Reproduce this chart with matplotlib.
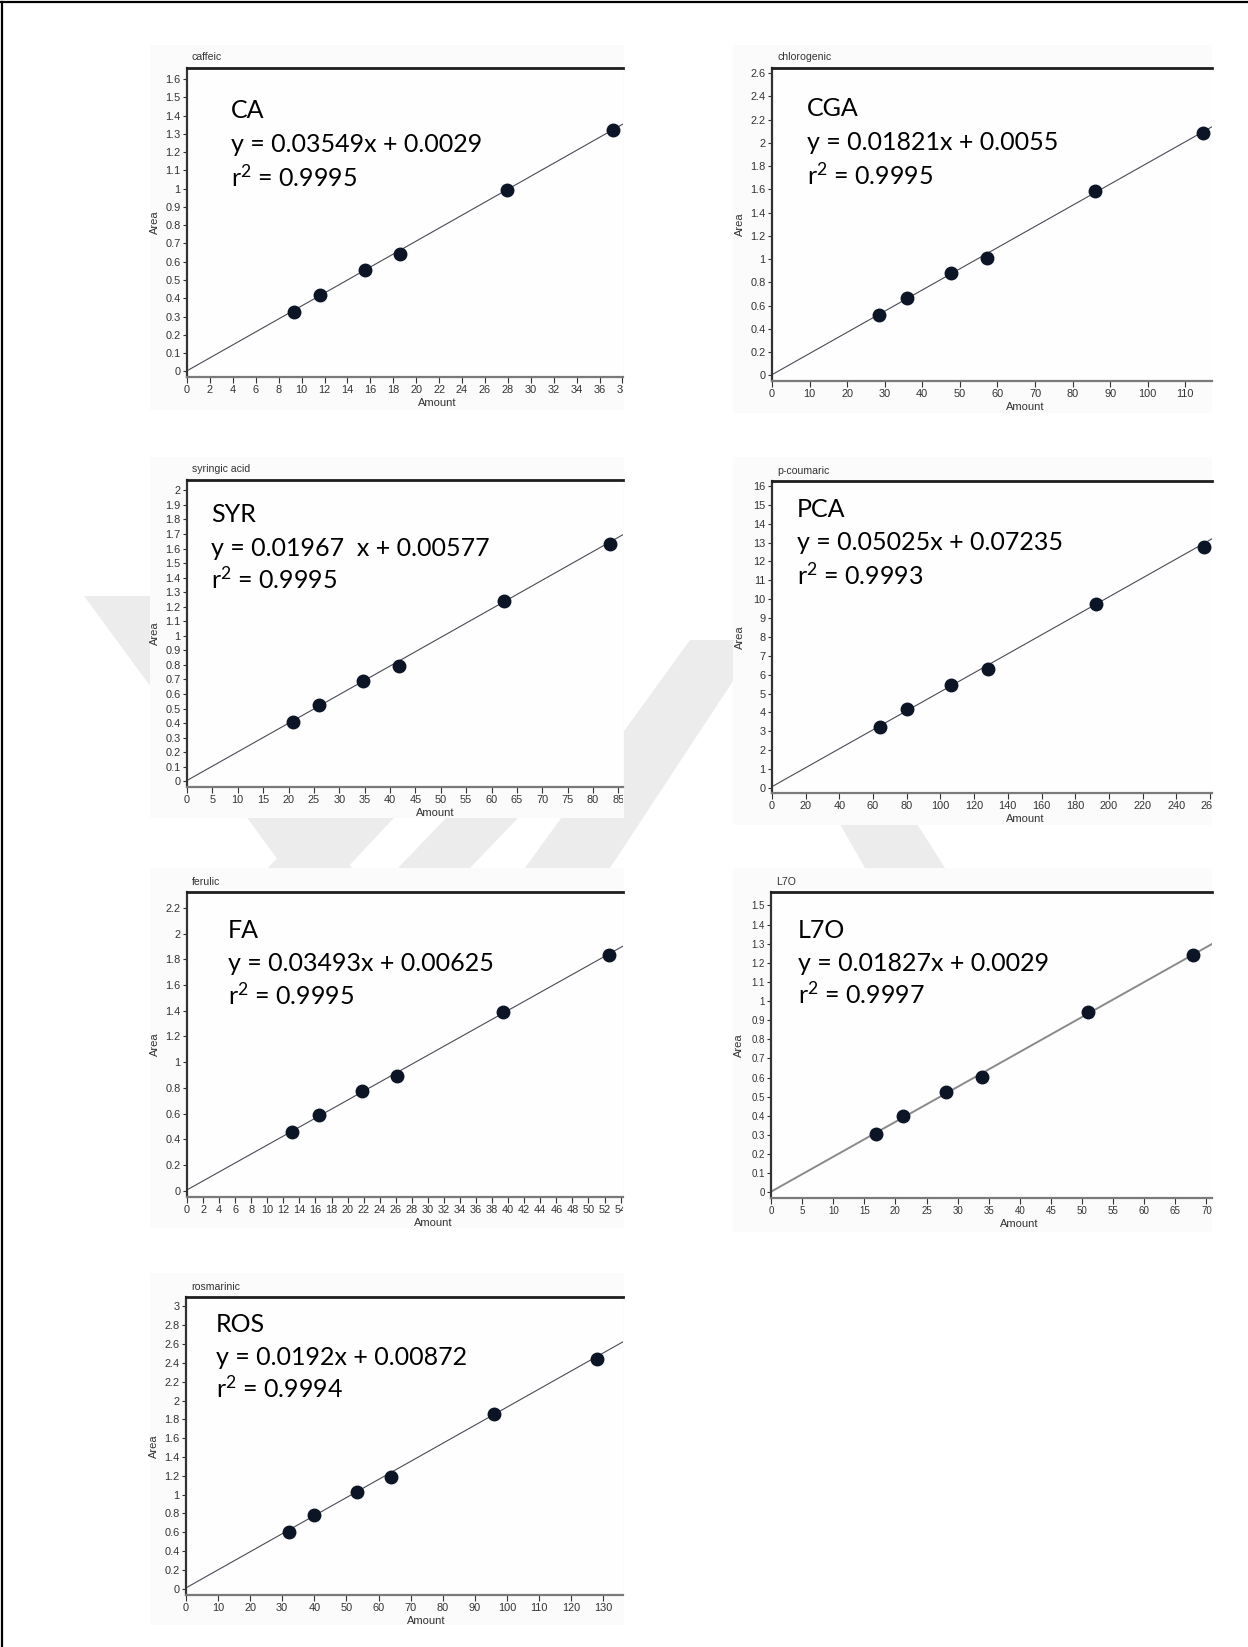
import matplotlib.pyplot as plt
import numpy as np
from matplotlib.patches import Polygon, Rectangle
from matplotlib.lines import Line2D
from matplotlib.transforms import Bbox, TransformedBbox

plt.rcParams['font.family'] = ['Liberation Sans', 'DejaVu Sans']
plt.rcParams['mathtext.fontset'] = 'custom'
plt.rcParams['mathtext.rm'] = 'Lato'
plt.rcParams['mathtext.it'] = 'Lato'
plt.rcParams['mathtext.default'] = 'regular'

# calibration data (amount vs peak area)
ca_x = [9.3, 11.6, 15.5, 18.6, 27.9, 37.2]
ca_y = [0.325, 0.42, 0.555, 0.64, 0.995, 1.32]

cga_x = [28.6, 35.8, 47.7, 57.3, 86.0, 114.7]
cga_y = [0.515, 0.665, 0.88, 1.01, 1.585, 2.08]

syr_x = [20.8, 26.0, 34.6, 41.7, 62.4, 83.3]
syr_y = [0.405, 0.525, 0.69, 0.795, 1.24, 1.63]

pca_x = [64.0, 80.0, 106.5, 128.2, 192.1, 256.3]
pca_y = [3.22, 4.16, 5.46, 6.29, 9.73, 12.78]

fa_x = [13.1, 16.4, 21.8, 26.2, 39.3, 52.5]
fa_y = [0.455, 0.59, 0.775, 0.895, 1.39, 1.83]

l7o_x = [16.9, 21.3, 28.2, 34.0, 50.9, 67.9]
l7o_y = [0.305, 0.40, 0.525, 0.605, 0.94, 1.24]

ros_x = [32.0, 40.0, 53.3, 64.0, 96.0, 128.0]
ros_y = [0.60, 0.785, 1.03, 1.19, 1.86, 2.445]

# regression lines (slope, intercept) and r squared
ca_fit = (0.03549, 0.0029, 0.9995)
cga_fit = (0.01821, 0.0055, 0.9995)
syr_fit = (0.01967, 0.00577, 0.9995)
pca_fit = (0.05025, 0.07235, 0.9993)
fa_fit = (0.03493, 0.00625, 0.9995)
l7o_fit = (0.01827, 0.0029, 0.9997)
ros_fit = (0.0192, 0.00872, 0.9994)

eq_override = {'SYR': 'y = 0.01967  x + 0.00577'}

W, H = 1248, 1647
fig = plt.figure(figsize=(W / 100, H / 100), dpi=100)
fig.patch.set_facecolor('white')


def fx(x):
    return x / W


def fy(y):
    return 1 - y / H


# watermark stripes behind everything
wm_color = '#ececec'
wm_polys = [
    [(84, 596), (152, 596), (352, 868), (284, 868)],
    [(268, 868), (347, 868), (420, 790), (341, 790)],
    [(398, 868), (470, 868), (545, 790), (473, 790)],
    [(525, 868), (610, 868), (760, 640), (690, 640)],
    [(735, 640), (800, 640), (945, 868), (865, 868)],
]
for pts in wm_polys:
    fig.add_artist(Polygon([(fx(a), fy(b)) for a, b in pts], closed=True,
                           facecolor=wm_color, edgecolor='none', zorder=0))

# page frame
fig.add_artist(Line2D([0, 1], [fy(2), fy(2)], color='black', lw=1.6, zorder=5))
fig.add_artist(Line2D([fx(1.5), fx(1.5)], [0, fy(2)], color='black', lw=1.6, zorder=5))

panels = [
    dict(x=ca_x, y=ca_y, fit=ca_fit, title='caffeic', label='CA',
         ax=(187, 68, 623, 377), bg=(150, 45, 624, 410),
         xlim=(0, 38.05), ylim=(-0.031, 1.66), xt=(2, 38), yt=(0.1, 1.6),
         txt=(231, 117.5, 151.5, 186.5), xl=0.575),
    dict(x=cga_x, y=cga_y, fit=cga_fit, title='chlorogenic', label='CGA',
         ax=(772, 68, 1212, 381), bg=(733, 45, 1212, 413),
         xlim=(0, 117.1), ylim=(-0.049, 2.643), xt=(10, 110), yt=(0.2, 2.6),
         txt=(807, 116.5, 150.5, 184.5), xl=0.576),
    dict(x=syr_x, y=syr_y, fit=syr_fit, title='syringic acid', label='SYR',
         ax=(187, 480, 623, 787), bg=(150, 457, 624, 818),
         xlim=(0, 85.9), ylim=(-0.039, 2.071), xt=(5, 85), yt=(0.1, 2.0),
         txt=(211, 522.5, 556, 588.5), xl=0.569),
    dict(x=pca_x, y=pca_y, fit=pca_fit, title='p-coumaric', label='PCA',
         ax=(772, 481, 1212, 793), bg=(733, 457, 1212, 825),
         xlim=(0, 261.2), ylim=(-0.264, 16.26), xt=(20, 260), yt=(1, 16),
         txt=(797, 517, 550.5, 585), xl=0.576),
    dict(x=fa_x, y=fa_y, fit=fa_fit, title='ferulic', label='FA',
         ax=(187, 892, 623, 1197), bg=(150, 868, 624, 1228),
         xlim=(0, 54.3), ylim=(-0.049, 2.324), xt=(2, 54), yt=(0.2, 2.2),
         txt=(228, 938.5, 971, 1005), xl=0.565),
    dict(x=l7o_x, y=l7o_y, fit=l7o_fit, title='L7O', label='L7O',
         ax=(771, 892, 1212, 1198), bg=(733, 868, 1212, 1232),
         xlim=(0, 70.9), ylim=(-0.030, 1.57), xt=(5, 70), yt=(0.1, 1.5),
         txt=(798, 937.5, 971, 1004), xl=0.562),
    dict(x=ros_x, y=ros_y, fit=ros_fit, title='rosmarinic', label='ROS',
         ax=(186, 1297, 623, 1595), bg=(150, 1273, 624, 1625),
         xlim=(0, 136.2), ylim=(-0.067, 3.10), xt=(10, 130), yt=(0.2, 3.0),
         txt=(216, 1332.5, 1365, 1397.5), xl=0.55),
]

tick_color = '#333333'
for p in panels:
    l, t, r, b = p['ax']
    bl, bt, br, bb = p['bg']
    fig.add_artist(Rectangle((fx(bl), fy(bb)), fx(br - bl), (bb - bt) / H,
                             facecolor='#fbfbfb', edgecolor='none', zorder=1))
    ax = fig.add_axes([fx(l), fy(b), fx(r - l), (b - t) / H])
    ax.set_zorder(2)
    ax.set_facecolor('#fefefe')
    ax.set_xlim(*p['xlim'])
    ax.set_ylim(*p['ylim'])

    xs, xmax = p['xt']
    ys, ymax = p['yt']
    xticks = np.arange(0, xmax + xs / 2, xs)
    yticks = np.arange(0, ymax + ys / 2, ys)
    ax.set_xticks(xticks)
    ax.set_yticks(yticks)
    ax.set_xticklabels([f'{v:g}' for v in xticks])
    ax.set_yticklabels([f'{round(v, 2):g}' for v in yticks])

    small = p['label'] == 'L7O'
    ax.tick_params(axis='both', colors=tick_color, labelsize=7.0 if small else 7.9,
                   direction='out', width=0.8)
    ax.tick_params(axis='y', length=3, pad=1.5)
    ax.tick_params(axis='x', length=4, pad=1.5)

    ax.spines['right'].set_visible(False)
    ax.spines['top'].set_linewidth(2.0)
    ax.spines['top'].set_color('#1e1e1e')
    ax.spines['left'].set_linewidth(1.6)
    ax.spines['left'].set_color('#333333')
    ax.spines['bottom'].set_linewidth(1.6)
    ax.spines['bottom'].set_color('#7a7a7a')

    slope, icpt, r2 = p['fit']
    lx = np.array([0, p['xlim'][1]])
    if small:
        ax.plot(lx, slope * lx + icpt, color='#8a8a8a', lw=1.4, zorder=2)
    else:
        ax.plot(lx, slope * lx + icpt, color='#4a4a55', lw=0.8, zorder=2)
    ax.plot(p['x'], p['y'], 'o', ms=9, color='#0b1526', mec='#0b1526', zorder=3)

    ax.set_xlabel('Amount', fontsize=8, color=tick_color)
    ax.xaxis.set_label_coords(p['xl'], -21 / (b - t))
    ax.set_ylabel('Area', fontsize=8, color=tick_color)
    ax.yaxis.set_label_coords(-27 / (r - l), 0.5)

    # chart title above the frame
    fig.text(fx(l + 5), fy(t - 7.5), p['title'], fontsize=7.6, color='#333333',
             va='baseline', ha='left')

    # equation block
    tx, b1, b2, b3 = p['txt']
    eq = eq_override.get(p['label'], f'y = {slope:g}x + {icpt:g}')
    for s, yy in ((p['label'], b1), (eq, b2), (f'r$^2$ = {r2:g}', b3)):
        fig.text(fx(tx), fy(yy), s, fontsize=18, family='Lato', color='black',
                 va='baseline', ha='left', zorder=4)

    # tick labels are cut at the right edge of the frame
    clip = TransformedBbox(Bbox.from_extents(0, 0, fx(r), 1), fig.transFigure)
    for lab in ax.get_xticklabels():
        lab.set_clip_box(clip)
        lab.set_clip_on(True)

fig.savefig('out.png', dpi=100, facecolor='white')
